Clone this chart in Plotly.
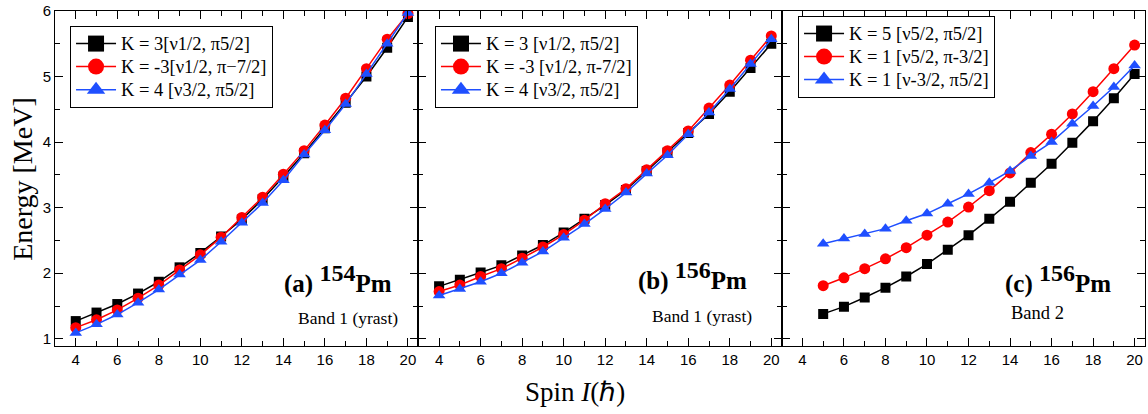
import plotly.graph_objects as go

spin_ab = list(range(4, 21))
spin_c = list(range(5, 21))

a_k3 = [1.27, 1.40, 1.53, 1.69, 1.87, 2.09, 2.31, 2.56, 2.82, 3.13, 3.47, 3.83, 4.21, 4.60, 5.00, 5.44, 5.91]
a_km3 = [1.17, 1.29, 1.44, 1.62, 1.82, 2.05, 2.28, 2.55, 2.85, 3.16, 3.51, 3.87, 4.26, 4.67, 5.12, 5.57, 5.96]
a_k4 = [1.09, 1.22, 1.37, 1.55, 1.75, 1.98, 2.20, 2.48, 2.77, 3.07, 3.42, 3.81, 4.18, 4.58, 5.04, 5.50, 5.97]

b_k3 = [1.80, 1.90, 2.01, 2.12, 2.27, 2.43, 2.62, 2.83, 3.04, 3.27, 3.56, 3.84, 4.14, 4.43, 4.77, 5.13, 5.50]
b_km3 = [1.72, 1.82, 1.95, 2.07, 2.23, 2.40, 2.59, 2.81, 3.06, 3.29, 3.58, 3.87, 4.17, 4.52, 4.87, 5.25, 5.62]
b_k4 = [1.66, 1.76, 1.87, 2.00, 2.16, 2.33, 2.54, 2.75, 2.98, 3.23, 3.52, 3.80, 4.12, 4.45, 4.81, 5.19, 5.57]

c_k5 = [1.38, 1.49, 1.63, 1.78, 1.95, 2.14, 2.36, 2.58, 2.83, 3.09, 3.38, 3.67, 3.99, 4.32, 4.67, 5.04]
c_k1a = [1.81, 1.93, 2.07, 2.22, 2.39, 2.58, 2.78, 3.01, 3.26, 3.53, 3.84, 4.12, 4.43, 4.77, 5.12, 5.48]
c_k1b = [2.45, 2.53, 2.60, 2.68, 2.80, 2.91, 3.06, 3.21, 3.38, 3.56, 3.79, 4.00, 4.28, 4.55, 4.84, 5.17]

names_a = ["K = 3[ν1/2, π5/2]", "K = -3[ν1/2, π−7/2]", "K = 4 [ν3/2, π5/2]"]
names_b = ["K = 3 [ν1/2, π5/2]", "K = -3 [ν1/2, π-7/2]", "K = 4 [ν3/2, π5/2]"]
names_c = ["K = 5 [ν5/2, π5/2]", "K = 1 [ν5/2, π-3/2]", "K = 1 [ν-3/2, π5/2]"]

SERIF = "Liberation Serif, Times New Roman, serif"
SANS = "Liberation Sans, Arial, sans-serif"
colors = ["#000000", "#ff0000", "#1f4fff"]
symbols = ["square", "circle", "triangle-up"]
sizes = [10, 11, 11]

fig = go.Figure()

panels = [
    ("x", "y", "legend", spin_ab, [a_k3, a_km3, a_k4], names_a),
    ("x2", "y2", "legend2", spin_ab, [b_k3, b_km3, b_k4], names_b),
    ("x3", "y3", "legend3", spin_c, [c_k5, c_k1a, c_k1b], names_c),
]

for xa, ya, lg, xs, series, names in panels:
    for i, (ys, nm) in enumerate(zip(series, names)):
        fig.add_trace(go.Scatter(
            x=xs, y=ys, xaxis=xa, yaxis=ya, mode="lines+markers",
            line=dict(color=colors[i], width=1.5),
            marker=dict(symbol=symbols[i], size=sizes[i], color=colors[i]),
            showlegend=False))
    for i, nm in enumerate(names):
        fig.add_trace(go.Scatter(
            x=[None], y=[None], xaxis=xa, yaxis=ya, mode="lines+markers",
            name="<span style='font-size:18.5px'>%s</span>" % nm, legend=lg,
            line=dict(color=colors[i], width=1.5),
            marker=dict(symbol=symbols[i], size=16, color=colors[i]),
            showlegend=True))

domains = [[0, 1/3], [1/3, 2/3], [2/3, 1]]
xkeys = ["xaxis", "xaxis2", "xaxis3"]
ykeys = ["yaxis", "yaxis2", "yaxis3"]
anchors_x = ["y", "y2", "y3"]
anchors_y = ["x", "x2", "x3"]

layout = dict(
    width=1148, height=414,
    margin=dict(l=55, r=3, t=11, b=68),
    paper_bgcolor="white", plot_bgcolor="white",
)
for k in range(3):
    layout[xkeys[k]] = dict(
        domain=domains[k], anchor=anchors_x[k], range=[3, 20.5],
        tickmode="linear", tick0=4, dtick=2,
        ticks="inside", ticklen=8, tickwidth=1, tickcolor="black",
        minor=dict(dtick=1, tick0=3, ticks="inside", ticklen=5, tickcolor="black"),
        showline=True, linecolor="black", linewidth=1, mirror="ticks",
        showgrid=False, zeroline=False,
        tickfont=dict(family=SANS, size=15, color="black"),
    )
    layout[ykeys[k]] = dict(
        domain=[0, 1], anchor=anchors_y[k], range=[0.89, 6],
        tickmode="linear", tick0=1, dtick=1,
        ticks="inside", ticklen=8, tickwidth=1, tickcolor="black",
        minor=dict(dtick=0.5, tick0=0.5, ticks="inside", ticklen=5, tickcolor="black"),
        showline=True, linecolor="black", linewidth=1, mirror="ticks",
        showgrid=False, zeroline=False,
        showticklabels=(k == 0),
        tickfont=dict(family=SANS, size=15, color="black"),
    )

leg_common = dict(
    bgcolor="white", bordercolor="black", borderwidth=1,
    font=dict(family=SERIF, size=15.4, color="black"),
    itemwidth=40, xanchor="left", yanchor="top",
    tracegroupgap=0,
)
layout["legend"] = dict(x=0.0138, y=0.955, **leg_common)
layout["legend2"] = dict(x=0.3486, y=0.955, **leg_common)
layout["legend3"] = dict(x=0.6817, y=0.985, **leg_common)

fig.update_layout(**layout)

def label(xref, yref, x, y, text, size, anchor="right"):
    fig.add_annotation(xref=xref, yref=yref, x=x, y=y, text=text, showarrow=False,
                       xanchor=anchor, yanchor="middle",
                       font=dict(family=SERIF, size=size, color="black"))

big = "<b>(%s) <sup><span style='font-size:24px'>%s</span></sup>Pm</b>"
label("x", "y", 19.35, 1.91, big % ("a", "154"), 25)
label("x", "y", 19.6, 1.32, "Band 1 (yrast)", 17.5)
label("x2", "y2", 18.95, 1.96, big % ("b", "156"), 25)
label("x2", "y2", 19.15, 1.35, "Band 1 (yrast)", 17.5)
label("x3", "y3", 18.95, 1.91, big % ("c", "156"), 25)
label("x3", "y3", 15.3, 1.39, "Band 2", 18.5, anchor="center")

fig.add_annotation(xref="paper", yref="paper", x=-0.03, y=0.5, xanchor="center", yanchor="middle",
                   text="Energy [MeV]", textangle=-90, showarrow=False,
                   font=dict(family=SERIF, size=28, color="black"))
fig.add_annotation(xref="paper", yref="paper", x=0.477, y=-0.137, xanchor="center", yanchor="middle",
                   text="Spin <i>I</i>(ℏ)", showarrow=False,
                   font=dict(family=SERIF, size=27, color="black"))

fig.write_html("out.html")
